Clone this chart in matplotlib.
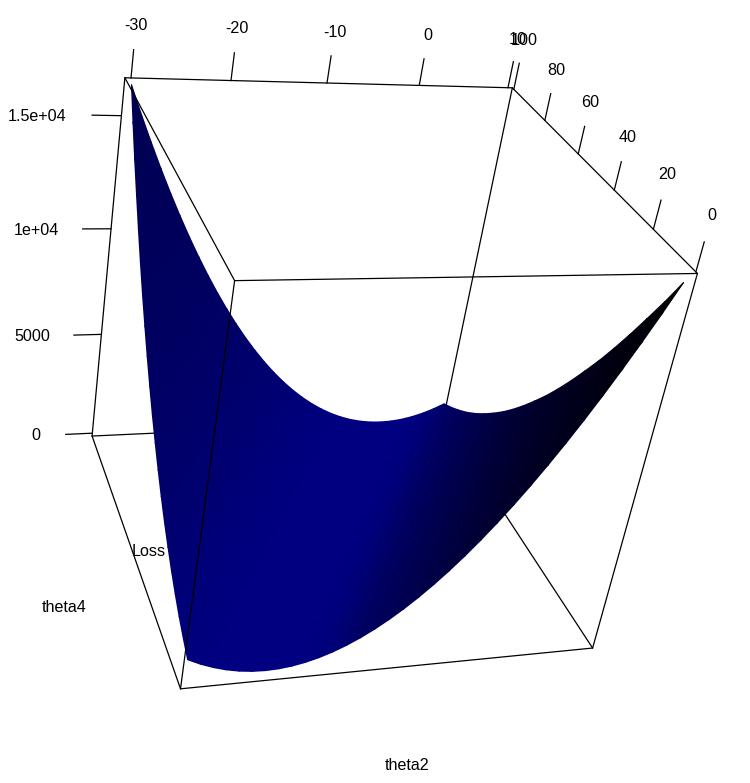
import numpy as np
import matplotlib
matplotlib.use("Agg")
import matplotlib.pyplot as plt
from matplotlib.colors import LinearSegmentedColormap

plt.rcParams['font.family'] = ['Liberation Sans', 'DejaVu Sans']

# grid of the surface
theta2 = [-30, -28.75, -27.5, -26.25, -25, -23.75, -22.5, -21.25, -20, -18.75, -17.5, -16.25, -15, -13.75, -12.5, -11.25,
          -10, -8.75, -7.5, -6.25, -5, -3.75, -2.5, -1.25, 0, 1.25, 2.5, 3.75, 5, 6.25, 7.5, 8.75, 10]
theta4 = [1.5, 6.4, 11.4, 16.3, 21.2, 26.1, 31.1, 36, 40.9, 45.8, 50.8, 55.7, 60.6, 65.5, 70.5, 75.4, 80.3, 85.2, 90.2, 95.1, 100]

# loss, one row per theta4
loss = [
    [873, 606, 388, 218, 97, 24, 0, 24, 95, 214, 380, 594, 855, 1164, 1520, 1924, 2375, 2874, 3420, 4014, 4655, 5344, 6080, 6864, 7695, 8574, 9500, 10474, 11495, 12564, 13680, 14844, 16055],
    [1188, 873, 606, 388, 218, 97, 24, 0, 24, 95, 214, 380, 594, 855, 1164, 1520, 1924, 2375, 2874, 3420, 4014, 4655, 5344, 6080, 6864, 7695, 8574, 9500, 10474, 11495, 12564, 13680, 14844],
    [1552, 1188, 873, 606, 388, 218, 97, 24, 0, 24, 95, 214, 380, 594, 855, 1164, 1520, 1924, 2375, 2874, 3420, 4014, 4655, 5344, 6080, 6864, 7695, 8574, 9500, 10474, 11495, 12564, 13680],
    [1964, 1552, 1188, 873, 606, 388, 218, 97, 24, 0, 24, 95, 214, 380, 594, 855, 1164, 1520, 1924, 2375, 2874, 3420, 4014, 4655, 5344, 6080, 6864, 7695, 8574, 9500, 10474, 11495, 12564],
    [2425, 1964, 1552, 1188, 873, 606, 388, 218, 97, 24, 0, 24, 95, 214, 380, 594, 855, 1164, 1520, 1924, 2375, 2874, 3420, 4014, 4655, 5344, 6080, 6864, 7695, 8574, 9500, 10474, 11495],
    [2934, 2425, 1964, 1552, 1188, 873, 606, 388, 218, 97, 24, 0, 24, 95, 214, 380, 594, 855, 1164, 1520, 1924, 2375, 2874, 3420, 4014, 4655, 5344, 6080, 6864, 7695, 8574, 9500, 10474],
    [3492, 2934, 2425, 1964, 1552, 1188, 873, 606, 388, 218, 97, 24, 0, 24, 95, 214, 380, 594, 855, 1164, 1520, 1924, 2375, 2874, 3420, 4014, 4655, 5344, 6080, 6864, 7695, 8574, 9500],
    [4098, 3492, 2934, 2425, 1964, 1552, 1188, 873, 606, 388, 218, 97, 24, 0, 24, 95, 214, 380, 594, 855, 1164, 1520, 1924, 2375, 2874, 3420, 4014, 4655, 5344, 6080, 6864, 7695, 8574],
    [4753, 4098, 3492, 2934, 2425, 1964, 1552, 1188, 873, 606, 388, 218, 97, 24, 0, 24, 95, 214, 380, 594, 855, 1164, 1520, 1924, 2375, 2874, 3420, 4014, 4655, 5344, 6080, 6864, 7695],
    [5456, 4753, 4098, 3492, 2934, 2425, 1964, 1552, 1188, 873, 606, 388, 218, 97, 24, 0, 24, 95, 214, 380, 594, 855, 1164, 1520, 1924, 2375, 2874, 3420, 4014, 4655, 5344, 6080, 6864],
    [6208, 5456, 4753, 4098, 3492, 2934, 2425, 1964, 1552, 1188, 873, 606, 388, 218, 97, 24, 0, 24, 95, 214, 380, 594, 855, 1164, 1520, 1924, 2375, 2874, 3420, 4014, 4655, 5344, 6080],
    [7008, 6208, 5456, 4753, 4098, 3492, 2934, 2425, 1964, 1552, 1188, 873, 606, 388, 218, 97, 24, 0, 24, 95, 214, 380, 594, 855, 1164, 1520, 1924, 2375, 2874, 3420, 4014, 4655, 5344],
    [7857, 7008, 6208, 5456, 4753, 4098, 3492, 2934, 2425, 1964, 1552, 1188, 873, 606, 388, 218, 97, 24, 0, 24, 95, 214, 380, 594, 855, 1164, 1520, 1924, 2375, 2874, 3420, 4014, 4655],
    [8754, 7857, 7008, 6208, 5456, 4753, 4098, 3492, 2934, 2425, 1964, 1552, 1188, 873, 606, 388, 218, 97, 24, 0, 24, 95, 214, 380, 594, 855, 1164, 1520, 1924, 2375, 2874, 3420, 4014],
    [9700, 8754, 7857, 7008, 6208, 5456, 4753, 4098, 3492, 2934, 2425, 1964, 1552, 1188, 873, 606, 388, 218, 97, 24, 0, 24, 95, 214, 380, 594, 855, 1164, 1520, 1924, 2375, 2874, 3420],
    [10694, 9700, 8754, 7857, 7008, 6208, 5456, 4753, 4098, 3492, 2934, 2425, 1964, 1552, 1188, 873, 606, 388, 218, 97, 24, 0, 24, 95, 214, 380, 594, 855, 1164, 1520, 1924, 2375, 2874],
    [11737, 10694, 9700, 8754, 7857, 7008, 6208, 5456, 4753, 4098, 3492, 2934, 2425, 1964, 1552, 1188, 873, 606, 388, 218, 97, 24, 0, 24, 95, 214, 380, 594, 855, 1164, 1520, 1924, 2375],
    [12828, 11737, 10694, 9700, 8754, 7857, 7008, 6208, 5456, 4753, 4098, 3492, 2934, 2425, 1964, 1552, 1188, 873, 606, 388, 218, 97, 24, 0, 24, 95, 214, 380, 594, 855, 1164, 1520, 1924],
    [13968, 12828, 11737, 10694, 9700, 8754, 7857, 7008, 6208, 5456, 4753, 4098, 3492, 2934, 2425, 1964, 1552, 1188, 873, 606, 388, 218, 97, 24, 0, 24, 95, 214, 380, 594, 855, 1164, 1520],
    [15156, 13968, 12828, 11737, 10694, 9700, 8754, 7857, 7008, 6208, 5456, 4753, 4098, 3492, 2934, 2425, 1964, 1552, 1188, 873, 606, 388, 218, 97, 24, 0, 24, 95, 214, 380, 594, 855, 1164],
    [16393, 15156, 13968, 12828, 11737, 10694, 9700, 8754, 7857, 7008, 6208, 5456, 4753, 4098, 3492, 2934, 2425, 1964, 1552, 1188, 873, 606, 388, 218, 97, 24, 0, 24, 95, 214, 380, 594, 855],
]

theta2_ticks = [-30, -20, -10, 0, 10]
theta4_ticks = [0, 20, 40, 60, 80, 100]
loss_ticks = [0, 5000, 10000, 15000]
loss_tick_labels = ['0', '5000', '1e+04', '1.5e+04']

# box limits
x0, x1 = -30.6, 10.5
y0, y1 = -0.7, 101
z0, z1 = -150, 16600

# camera, fitted on where the eight box corners sit in the image
corners = [(x0, y1, z1), (x1, y1, z1), (x1, y0, z1), (x0, y0, z1),
           (x0, y1, z0), (x1, y1, z0), (x1, y0, z0), (x0, y0, z0)]
corner_px = [(125, 77.7), (513, 88), (697, 273), (234, 281),
             (92, 435.7), (442.5, 420), (593, 648), (181, 689)]
rows = []
rhs = []
for (a, b, c), (u, v) in zip(corners, corner_px):
    rows.append([a, b, c, 1, 0, 0, 0, 0, -u*a, -u*b, -u*c])
    rows.append([0, 0, 0, 0, a, b, c, 1, -v*a, -v*b, -v*c])
    rhs += [u, v]
scale = np.array([40, 100, 16000, 1, 40, 100, 16000, 1, 40, 100, 16000], dtype=float)
p = np.linalg.lstsq(np.array(rows)*scale, np.array(rhs), rcond=None)[0]*scale
P = np.append(p, 1).reshape(3, 4)


def trans3d(x, y, z):
    x, y, z = np.asarray(x, float), np.asarray(y, float), np.asarray(z, float)
    w = P[2, 0]*x + P[2, 1]*y + P[2, 2]*z + P[2, 3]
    return ((P[0, 0]*x + P[0, 1]*y + P[0, 2]*z + P[0, 3])/w,
            (P[1, 0]*x + P[1, 1]*y + P[1, 2]*z + P[1, 3])/w)


fig = plt.figure(figsize=(7.5, 7.83), dpi=100)
ax = fig.add_axes([0, 0, 1, 1])
ax.set_xlim(0, 750)
ax.set_ylim(783, 0)
ax.axis('off')


def edge(a, b, zorder):
    xs, ys = trans3d([a[0], b[0]], [a[1], b[1]], [a[2], b[2]])
    ax.plot(xs, ys, color='black', lw=0.9, zorder=zorder, solid_capstyle='round')


# edges behind the surface
edge((x0, y1, z0), (x1, y1, z0), 1)
edge((x1, y1, z0), (x1, y0, z0), 1)
edge((x1, y1, z0), (x1, y1, z1), 1)

# surface, shade follows the slope of the valley
Z = np.array(loss, dtype=float)
T2, T4 = np.meshgrid(theta2, theta4)
X, Y = trans3d(T2, T4, Z)
slope = np.gradient(Z, 5, axis=0)
cmap = LinearSegmentedColormap.from_list('navy', [
    (0.00, (0, 0, 0)),
    (0.05, (0, 0, 0.04)),
    (0.20, (0, 0, 0.18)),
    (0.36, (0, 0, 0.37)),
    (0.43, (0, 0, 0.50)),
    (0.60, (0, 0, 0.50)),
    (0.80, (0, 0, 0.40)),
    (1.00, (0, 0, 0.32)),
])
ax.pcolormesh(X, Y, slope, shading='gouraud', cmap=cmap, vmin=-250, vmax=250, zorder=2)

# edges in front
edge((x0, y1, z1), (x1, y1, z1), 3)
edge((x1, y1, z1), (x1, y0, z1), 3)
edge((x1, y0, z1), (x0, y0, z1), 3)
edge((x0, y0, z1), (x0, y1, z1), 3)
edge((x0, y1, z1), (x0, y1, z0), 3)
edge((x0, y0, z1), (x0, y0, z0), 3)
edge((x1, y0, z1), (x1, y0, z0), 3)
edge((x0, y1, z0), (x0, y0, z0), 3)
edge((x0, y0, z0), (x1, y0, z0), 3)

# ticks
tick = 0.07
lab = 1.85
fs = 11.6
dz = tick*(z1 - z0)
for t in theta2_ticks:
    xs, ys = trans3d([t, t], [y1, y1], [z1, z1 + dz])
    ax.plot(xs, ys, color='black', lw=0.9, zorder=3)
    lx, ly = trans3d(t, y1, z1 + lab*dz)
    ax.text(lx, ly, str(t), ha='center', va='center', fontsize=fs)
for t in theta4_ticks:
    xs, ys = trans3d([x1, x1], [t, t], [z1, z1 + dz])
    ax.plot(xs, ys, color='black', lw=0.9, zorder=3)
    lx, ly = trans3d(x1, t, z1 + lab*dz)
    ax.text(lx, ly, str(t), ha='center', va='center', fontsize=fs)
dx = tick*(x1 - x0)
loss_label_x = [36, 32, 36, 37]
for t, s, lx in zip(loss_ticks, loss_tick_labels, loss_label_x):
    xs, ys = trans3d([x0, x0 - dx], [y1, y1], [t, t])
    ax.plot(xs, ys, color='black', lw=0.9, zorder=3)
    ax.text(lx, ys[1] + 1.5, s, ha='center', va='center', fontsize=fs)

# axis names, R puts them here
ax.text(149, 551, 'Loss', ha='center', va='center', fontsize=fs)
ax.text(64, 608, 'theta4', ha='center', va='center', fontsize=fs)
ax.text(407, 765, 'theta2', ha='center', va='center', fontsize=fs)

fig.savefig('out.png', dpi=100)
